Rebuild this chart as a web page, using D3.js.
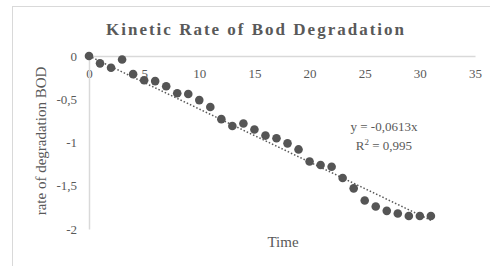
<!DOCTYPE html>
<html>
<head>
<meta charset="utf-8">
<script src="https://cdn.jsdelivr.net/npm/d3@7/dist/d3.min.js"></script>
<style>
  body { margin: 0; background: #fff; }
  text { font-family: "Liberation Serif", "DejaVu Serif", serif; }
</style>
</head>
<body>
<div id="chart"></div>
<script>
const times = [0, 1, 2, 3, 4, 5, 6, 7, 8, 9, 10, 11, 12, 13, 14, 15,
  16, 17, 18, 19, 20, 21, 22, 23, 24, 25, 26, 27, 28, 29, 30, 31];
const rates = [0, -0.085, -0.136, -0.04, -0.21, -0.28, -0.29, -0.35, -0.43, -0.44,
  -0.51, -0.59, -0.73, -0.81, -0.78, -0.85, -0.92, -0.95, -1.01, -1.08,
  -1.22, -1.26, -1.28, -1.41, -1.53, -1.67, -1.74, -1.79, -1.82, -1.85, -1.85, -1.85];
const slope = -0.0613;
const xTicks = [0, 5, 10, 15, 20, 25, 30, 35];
const yTicks = [0, -0.5, -1, -1.5, -2];

const width = 490, height = 266;
const svg = d3.select("#chart").append("svg")
  .attr("width", width).attr("height", height);

// chart area border
svg.append("rect")
  .attr("x", 12.5).attr("y", 6.5)
  .attr("width", 490).attr("height", 300)
  .attr("fill", "none").attr("stroke", "#d9d9d9");

const x = d3.scaleLinear().domain([0, 35]).range([89, 475]);
const y = d3.scaleLinear().domain([-2, 0]).range([229, 56]);
const fmt = d => d3.format("")(d).replace(".", ",").replace("−", "-");

// x axis sits at y = 0
const xAxis = svg.append("g")
  .attr("transform", `translate(0,${y(0)})`)
  .call(d3.axisBottom(x).tickValues(xTicks).tickSize(0).tickPadding(13).tickFormat(fmt));
xAxis.select(".domain").attr("stroke", "#d9d9d9").attr("stroke-width", 1.5);
xAxis.selectAll("text").attr("fill", "#595959").attr("font-size", 13)
  .style("font-family", '"Liberation Serif", serif');

const yAxis = svg.append("g")
  .attr("transform", `translate(${x(0)},0)`)
  .call(d3.axisLeft(y).tickValues(yTicks).tickSize(0).tickPadding(12).tickFormat(fmt));
yAxis.select(".domain").attr("stroke", "#d9d9d9").attr("stroke-width", 1.5);
yAxis.selectAll("text").attr("fill", "#595959").attr("font-size", 13)
  .style("font-family", '"Liberation Serif", serif');

// linear trendline through origin
svg.append("line")
  .attr("x1", x(0)).attr("y1", y(0))
  .attr("x2", x(31)).attr("y2", y(slope * 31))
  .attr("stroke", "#595959").attr("stroke-width", 1.5)
  .attr("stroke-dasharray", "1.5,2");

// data points
svg.selectAll("circle.pt")
  .data(times.map((t, i) => ({ t: t, v: rates[i] })))
  .join("circle")
  .attr("class", "pt")
  .attr("cx", d => x(d.t))
  .attr("cy", d => y(d.v))
  .attr("r", 4.3)
  .attr("fill", "#555555");

// title
svg.append("text")
  .attr("x", 256).attr("y", 35)
  .attr("text-anchor", "middle")
  .attr("font-size", 17).attr("font-weight", "bold")
  .attr("letter-spacing", 2)
  .attr("fill", "#595959")
  .text("Kinetic Rate of Bod Degradation");

// axis titles
svg.append("text")
  .attr("x", 283).attr("y", 247)
  .attr("text-anchor", "middle")
  .attr("font-size", 15).attr("fill", "#595959")
  .text("Time");

svg.append("text")
  .attr("transform", "translate(46,141) rotate(-90)")
  .attr("text-anchor", "middle")
  .attr("font-size", 15).attr("fill", "#595959")
  .text("rate of degradation BOD");

// trendline equation
svg.append("text")
  .attr("x", 384).attr("y", 131)
  .attr("text-anchor", "middle")
  .attr("font-size", 13).attr("fill", "#595959")
  .text("y = -0,0613x");
const r2 = svg.append("text")
  .attr("x", 384).attr("y", 150)
  .attr("text-anchor", "middle")
  .attr("font-size", 13).attr("fill", "#595959");
r2.append("tspan").text("R");
r2.append("tspan").attr("font-size", 9).attr("dy", -5).text("2");
r2.append("tspan").attr("dy", 5).text(" = 0,995");
</script>
</body>
</html>
